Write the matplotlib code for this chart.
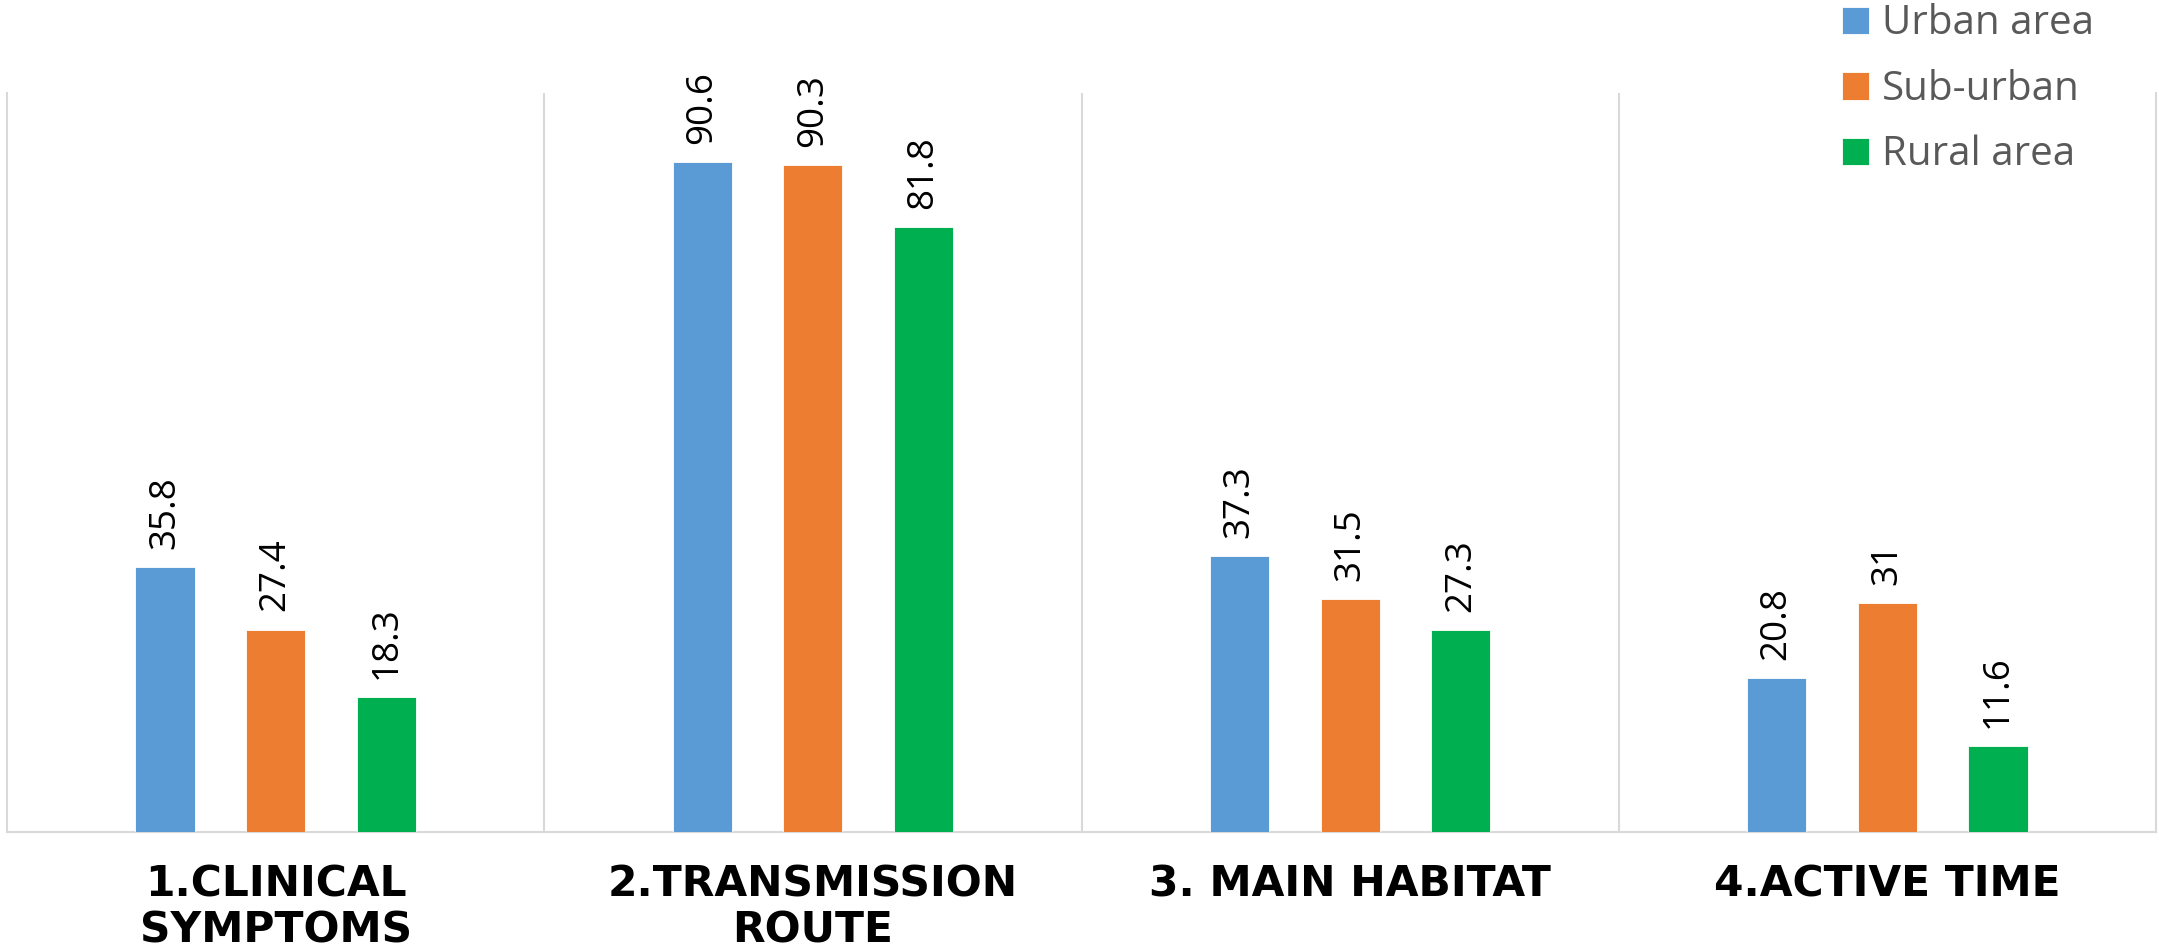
import matplotlib
matplotlib.use("Agg")
import matplotlib.pyplot as plt
import numpy as np

categories = ["1.CLINICAL\nSYMPTOMS", "2.TRANSMISSION\nROUTE", "3. MAIN HABITAT", "4.ACTIVE TIME"]
series_names = ["Urban area", "Sub-urban", "Rural area"]
urban = [35.8, 90.6, 37.3, 20.8]
suburban = [27.4, 90.3, 31.5, 31]
rural = [18.3, 81.8, 27.3, 11.6]
colors = ["#5B9BD5", "#ED7D31", "#00B050"]

fig = plt.figure(figsize=(21.59, 9.52), dpi=100)
W, H = 2159, 952
ax = fig.add_axes([7 / W, 1 - 832 / H, (2156 - 7) / W, (832 - 93) / H])

x = np.arange(len(categories))
width = 0.11
offsets = [-0.206, 0.0, 0.206]
grid_c = "#D9D9D9"

for vals, off, c, name in zip([urban, suburban, rural], offsets, colors, series_names):
    bars = ax.bar(x + off, vals, width, color=c, label=name, edgecolor="white",
                  linewidth=0.6, zorder=3)
    for b, v in zip(bars, vals):
        ax.annotate(f"{v:g}", (b.get_x() + b.get_width() / 2, b.get_height()),
                    xytext=(0, 13), textcoords="offset points", rotation=90,
                    ha="center", va="bottom", fontsize=26.5, family="Open Sans",
                    color="black")

ax.set_xlim(-0.5, len(categories) - 0.5)
ax.set_ylim(0, 100)
for xv in np.arange(0.5, len(categories) - 0.5, 1.0):
    ax.axvline(xv, color=grid_c, lw=1.5, zorder=1)
for s in ["left", "right", "bottom"]:
    ax.spines[s].set_color(grid_c)
    ax.spines[s].set_linewidth(1.5)
ax.spines["top"].set_visible(False)
ax.set_yticks([])
ax.set_xticks(x)
ax.set_xticklabels(categories, fontsize=30.5, fontweight="bold", family="DejaVu Sans",
                   linespacing=1.12)
ax.tick_params(axis="x", length=0, pad=23)

leg = fig.legend(loc="upper left", bbox_to_anchor=(1842 / W, 1 - 4 / H), frameon=False,
                 prop={"family": "Open Sans", "size": 29}, labelcolor="#595959",
                 handlelength=0.67, handleheight=0.67, handletextpad=0.32,
                 labelspacing=0.62, borderpad=0, borderaxespad=0)

fig.savefig("out.png", dpi=100)
